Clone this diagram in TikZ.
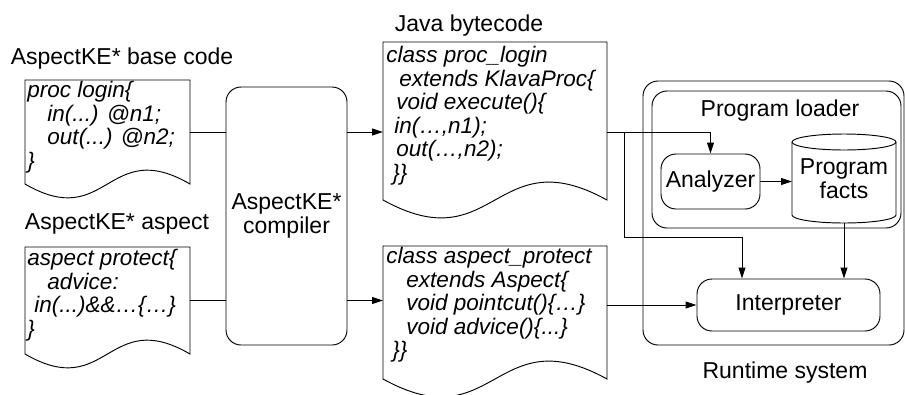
\documentclass[tikz,border=0pt]{standalone}
\usepackage{fontspec}
\setmainfont{Liberation Sans}
\usetikzlibrary{arrows.meta,calc}

% outline of a document node with a wavy lower edge
\newcommand{\docoutline}[2]{%
  \draw (#1.south west) .. controls ($(#1.south)+(0pt,-#2pt)$) and ($(#1.south)+(0pt,#2pt)$) .. (#1.south east)
    -- (#1.north east) -- (#1.north west) -- cycle;}
% outline of a storage (cylinder) node
\newcommand{\storeoutline}[2]{%
  \draw ($(#1.north west)+(0pt,-#2pt)$) arc[start angle=180,end angle=0,x radius=52pt,y radius=#2pt]
    -- ($(#1.south east)+(0pt,#2pt)$) arc[start angle=0,end angle=-180,x radius=52pt,y radius=#2pt] -- cycle;
  \draw ($(#1.north west)+(0pt,-#2pt)$) arc[start angle=180,end angle=360,x radius=52pt,y radius=#2pt];}

\begin{document}
\begin{tikzpicture}[x=1pt,y=-1pt,line width=0.95pt,
  >={Triangle[length=11pt,width=7pt]},
  every node/.style={font=\fontsize{23}{23.5}\selectfont},
  docbox/.style={inner sep=0pt,outer sep=0pt},
  code/.style={anchor=north west,inner sep=0pt,align=left,font=\fontsize{22.5}{23.5}\selectfont\itshape},
  rbox/.style={draw,rounded corners=15pt,inner sep=0pt},
  lbl/.style={inner sep=0pt}]

\useasboundingbox (0,0) rectangle (905,394);
\fill[white] (0,0) rectangle (905,394);

% source documents
\node[lbl] (basel) at (122,59) {AspectKE* base code};
\node[docbox,minimum width=165pt,minimum height=104pt] (base) at (107.5,132) {};
\docoutline{base}{48}
\node[code] (basetxt) at (27,81) {proc login\{\\
\hspace*{20pt}in(...) @n1;\\
\hspace*{20pt}out(...) @n2;\\
\}};

\node[lbl] (aspectl) at (117,224) {AspectKE* aspect};
\node[docbox,minimum width=165pt,minimum height=107pt] (aspect) at (107.5,300.5) {};
\docoutline{aspect}{48}
\node[code] (aspecttxt) at (27,249) {aspect protect\{\\
\hspace*{20pt}advice:\\
\hspace*{7pt}in(...)\&\&…\{…\}\\
\}};

% compiler
\node[rbox,minimum width=121pt,minimum height=258pt,align=center] (comp) at (286.5,216) {AspectKE*\\compiler};

% generated documents
\node[lbl] (bcl) at (469,26) {Java bytecode};
\node[docbox,minimum width=224pt,minimum height=158pt] (bc) at (495,121) {};
\docoutline{bc}{62}
\node[code] (bctxt) at (386,46) {class proc\_login\\
\hspace*{13pt}extends KlavaProc\{\\
\hspace*{10pt}void execute()\{\\
\hspace*{8pt}in(…,n1);\\
\hspace*{10pt}out(…,n2);\\
\hspace*{6pt}\}\}};

\node[docbox,minimum width=224pt,minimum height=133pt] (asp) at (495,312.5) {};
\docoutline{asp}{62}
\node[code] (asptxt) at (386,247) {class aspect\_protect\\
\hspace*{20pt}extends Aspect\{\\
\hspace*{20pt}void pointcut()\{…\}\\
\hspace*{20pt}void advice()\{...\}\\
\hspace*{6pt}\}\}};

% runtime system
\node[rbox,minimum width=261pt,minimum height=264pt] (rt) at (773.5,213) {};
\node[lbl] (rtl) at (785,373) {Runtime system};
\node[rbox,minimum width=249pt,minimum height=137pt] (ld) at (776.5,159.5) {};
\node[lbl] (ldl) at (780,111) {Program loader};
\node[rbox,minimum width=99pt,minimum height=55pt] (ana) at (710.5,181.5) {Analyzer};
\node[docbox,minimum width=104pt,minimum height=89pt,align=center] (facts) at (844,178.5) {Program\\facts};
\storeoutline{facts}{8}
\node[rbox,minimum width=183pt,minimum height=52pt] (interp) at (788.5,305) {Interpreter};

% connectors
\draw (base.east) -- (base.east -| comp.west);
\draw[->] (comp.east |- base.east) -- (bc.west |- base.east);
\draw (aspect.east) -- (aspect.east -| comp.west);
\draw[->] (comp.east |- aspect.east) -- (asp.west |- aspect.east);
\draw[->] (bc.east |- base.east) -| (ana.north);
\coordinate (tap) at (624,132);
\coordinate (bend) at (742,237);
\draw[->] (tap) |- (bend) -- (bend |- interp.north);
\draw[->] (asp.east |- interp.west) -- (interp.west);
\draw[->] (ana.east) -- (facts.west |- ana.east);
\draw[->] (facts.south) -- (facts.south |- interp.north);

\end{tikzpicture}
\end{document}
